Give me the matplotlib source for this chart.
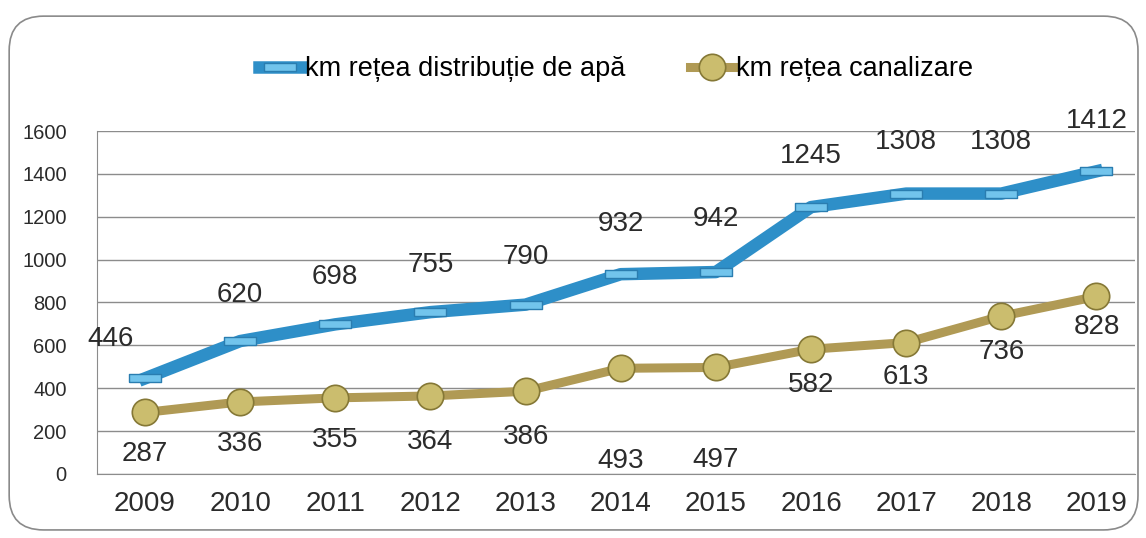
import matplotlib.pyplot as plt
from matplotlib.patches import FancyBboxPatch

plt.rcParams['font.family'] = ['Liberation Sans', 'DejaVu Sans']

years = ['2009', '2010', '2011', '2012', '2013', '2014', '2015', '2016', '2017', '2018', '2019']
apa = [446, 620, 698, 755, 790, 932, 942, 1245, 1308, 1308, 1412]
canal = [287, 336, 355, 364, 386, 493, 497, 582, 613, 736, 828]

# label offsets (points), as placed in the original
apa_off = [28, 33, 34, 34, 34, 36, 38, 37, 37, 37, 36]
canal_off = [30, 30, 30, 33, 33, 67, 67, 26, 25, 26, 22]

blue = '#2e8fc8'
tan = '#b09a55'

fig = plt.figure(figsize=(11.46, 5.38), dpi=100)
border = FancyBboxPatch((0.008, 0.015), 0.985, 0.955, boxstyle='round,pad=0,rounding_size=0.03',
                        transform=fig.transFigure, fill=False, edgecolor='#8a8a8a', lw=1.2,
                        mutation_aspect=1146 / 538)
fig.patches.append(border)

ax = fig.add_axes([0.085, 0.119, 0.905, 0.6375])
x = range(len(years))

rect = [(-2, -0.5), (2, -0.5), (2, 0.5), (-2, 0.5), (-2, -0.5)]
ax.plot(x, apa, color=blue, lw=9, solid_joinstyle='round', zorder=3, marker=rect, ms=23,
        mfc='#72c4ec', mec='#2a7db0', mew=1, label='km rețea distribuție de apă')
ax.plot(x, canal, color=tan, lw=6.5, zorder=3, marker='o', ms=19,
        mfc='#cbbd6e', mec='#857836', mew=1.2, label='km rețea canalizare')

for i, v in enumerate(apa):
    dx = -25 if i == 0 else 0
    ax.annotate(str(v), (i, v), xytext=(dx, apa_off[i]), textcoords='offset points',
                ha='center', va='center', fontsize=20, color='#2b2b2b')
for i, v in enumerate(canal):
    ax.annotate(str(v), (i, v), xytext=(0, -canal_off[i]), textcoords='offset points',
                ha='center', va='center', fontsize=20, color='#2b2b2b')

ax.set_xlim(-0.5, 10.4)
ax.set_ylim(0, 1600)
ax.set_yticks(range(0, 1601, 200))
ax.set_xticks(list(x))
ax.set_xticklabels(years, fontsize=20, color='#2b2b2b')
ax.tick_params(axis='y', labelsize=14.5, colors='#2b2b2b', length=0, pad=22)
ax.tick_params(axis='x', length=0, pad=12)
ax.grid(axis='y', color='#8c8c8c', lw=1)
ax.set_axisbelow(True)
for s in ['top', 'right']:
    ax.spines[s].set_visible(False)
ax.spines['left'].set_color('#8c8c8c')
ax.spines['bottom'].set_color('#8c8c8c')

ax.legend(loc='center', bbox_to_anchor=(0.5, 1.18), ncol=2, frameon=False,
          fontsize=19.5, handlelength=1.6, handletextpad=0.1, columnspacing=2.4)

fig.savefig('out.png', dpi=100)
